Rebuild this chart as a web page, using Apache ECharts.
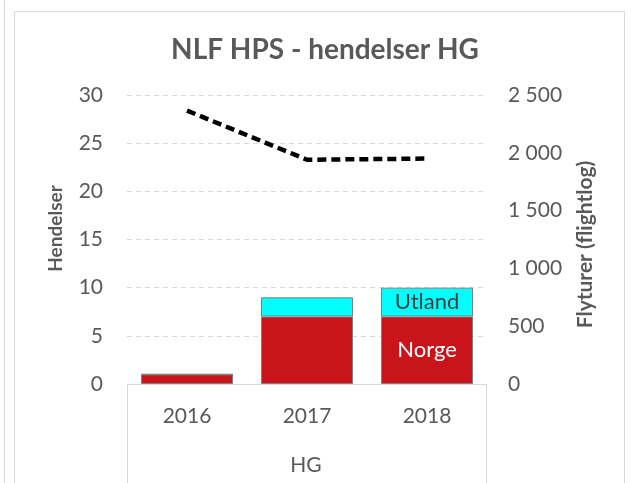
<!DOCTYPE html>
<html><head><meta charset="utf-8">
<script src="https://cdn.jsdelivr.net/npm/echarts@6/dist/echarts.min.js"></script>
<style>html,body{margin:0;padding:0;background:#fff}#c{width:631px;height:483px}</style>
</head><body><div id="c"></div>
<script>
const categories = ['2016', '2017', '2018'];
const norge = [1, 7, 7];
const utland = [0, 2, 3];
const flyturer = [2365, 1940, 1950];
const leftTicks = { min: 0, max: 30, interval: 5 };
const rightTicks = { min: 0, max: 2500, interval: 500 };

const FONT = 'Lato';
const GRAY = '#595959';
const last = categories.length - 1;

function withLastLabel(arr, name, color) {
  return arr.map((v, i) => i === last ? {
    value: v,
    label: { show: true, position: 'inside', formatter: name, color: color, fontSize: 22, fontFamily: FONT }
  } : v);
}

const chart = echarts.init(document.getElementById('c'));
chart.setOption({
  animation: false,
  backgroundColor: '#fff',
  title: {
    text: 'NLF HPS - hendelser HG', left: 320, textAlign: 'center', top: 31,
    textStyle: { fontFamily: FONT, fontSize: 28, fontWeight: 'bold', color: GRAY }
  },
  grid: { left: 127, right: 144, top: 95, bottom: 99 },
  xAxis: {
    type: 'category', data: categories,
    axisLine: { lineStyle: { color: '#d9d9d9' } },
    axisTick: { show: false },
    axisLabel: { fontFamily: FONT, fontSize: 21, color: GRAY, margin: 22 }
  },
  yAxis: [
    {
      type: 'value', min: leftTicks.min, max: leftTicks.max, interval: leftTicks.interval,
      name: 'Hendelser', nameLocation: 'middle', nameGap: 62, nameRotate: 90,
      nameTextStyle: { fontFamily: FONT, fontSize: 19, fontWeight: 'bold', color: GRAY, padding: [0, 0, 0, 22] },
      axisLine: { show: false }, axisTick: { show: false },
      axisLabel: { fontFamily: FONT, fontSize: 21, color: GRAY, margin: 24 },
      splitLine: { lineStyle: { color: '#d9d9d9', type: [5, 4] } }
    },
    {
      type: 'value', min: rightTicks.min, max: rightTicks.max, interval: rightTicks.interval,
      name: 'Flyturer (flightlog)', nameLocation: 'middle', nameGap: 88, nameRotate: 90,
      nameTextStyle: { fontFamily: FONT, fontSize: 21, fontWeight: 'bold', color: GRAY, padding: [0, 10, 0, 0] },
      axisLine: { show: false }, axisTick: { show: false },
      axisLabel: {
        fontFamily: FONT, fontSize: 21, color: GRAY, margin: 21,
        formatter: v => String(v).replace(/\B(?=(\d{3})+(?!\d))/g, ' ')
      },
      splitLine: { show: false }
    }
  ],
  series: [
    {
      name: 'Norge', type: 'bar', stack: 'a', barWidth: 92,
      data: withLastLabel(norge, 'Norge', '#ffffff'),
      itemStyle: { color: '#C8141A', borderColor: '#7f7f7f', borderWidth: 1 }
    },
    {
      name: 'Utland', type: 'bar', stack: 'a', barWidth: 92,
      data: withLastLabel(utland, 'Utland', '#404040'),
      itemStyle: { color: '#00FFFF', borderColor: '#7f7f7f', borderWidth: 1 }
    },
    {
      name: 'Flyturer', type: 'line', yAxisIndex: 1, data: flyturer,
      symbol: 'none', lineStyle: { color: '#000', width: 4.5, type: [9, 5] }
    }
  ],
  graphic: [
    { type: 'line', shape: { x1: 4.5, y1: 0, x2: 4.5, y2: 483 }, style: { stroke: '#d9d9d9', lineWidth: 1 } },
    { type: 'polyline', shape: { points: [[14.5, 483], [14.5, 11.5], [624.5, 11.5], [624.5, 483]] }, style: { stroke: '#d9d9d9', lineWidth: 1, fill: null } },
    { type: 'line', shape: { x1: 127.5, y1: 384, x2: 127.5, y2: 483 }, style: { stroke: '#d9d9d9', lineWidth: 1 } },
    { type: 'line', shape: { x1: 486.5, y1: 384, x2: 486.5, y2: 483 }, style: { stroke: '#d9d9d9', lineWidth: 1 } },
    { type: 'text', x: 306, y: 465, style: { text: 'HG', font: '21px Lato', fill: GRAY, textAlign: 'center', textVerticalAlign: 'middle' } }
  ]
});
</script></body></html>
